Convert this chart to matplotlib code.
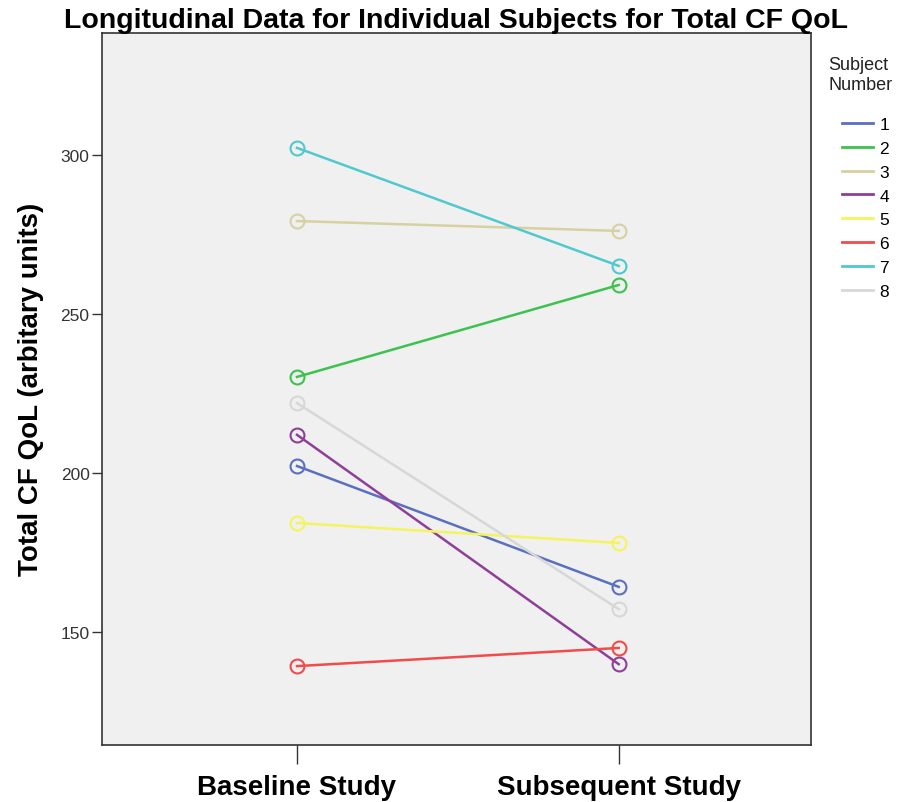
import matplotlib
matplotlib.use("Agg")
import matplotlib.pyplot as plt

plt.rcParams['font.family'] = ['Liberation Sans', 'DejaVu Sans']

studies = ["Baseline Study", "Subsequent Study"]
subjects = ["1", "2", "3", "4", "5", "6", "7", "8"]
baseline = [202.2, 230.2, 279.2, 212.0, 184.3, 139.3, 302.2, 222.0]
subsequent = [164.2, 259.1, 276.1, 139.9, 178.0, 145.0, 265.1, 157.2]
colors = ["#5a6fbf", "#3cc24e", "#d6d0a3", "#8f3f98", "#f4f45e",
          "#f24b4b", "#4fc9cf", "#d7d7d7"]
yticks = [150, 200, 250, 300]

fig = plt.figure(figsize=(9.11, 8.03), dpi=100)
ax = fig.add_axes([0.112, 0.071, 0.778, 0.887])
ax.set_facecolor("#f0f0f0")

xpos = range(len(studies))
for name, b, s, c in zip(subjects, baseline, subsequent, colors):
    ax.plot(xpos, [b, s], color=c, lw=1.8, marker="o", ms=10,
            mfc="none", mec=c, mew=1.5, label=name)

ax.set_xlim(-0.606, 1.597)
ax.set_ylim(114.5, 338.4)
ax.set_xticks(list(xpos))
ax.set_xticklabels(studies, fontsize=20, fontweight="bold")
ax.set_yticks(yticks)
ax.set_yticklabels([str(t) for t in yticks], fontsize=12.5, color="#333333")
ax.tick_params(axis="x", length=14, width=1, color="#333333", pad=7)
ax.tick_params(axis="y", length=7, width=1, color="#333333", pad=2)
for sp in ax.spines.values():
    sp.set_color("#333333")
    sp.set_linewidth(1.2)

ax.set_ylabel("Total CF QoL (arbitary units)", fontsize=20, fontweight="bold",
              labelpad=12)
ax.set_title("Longitudinal Data for Individual Subjects for Total CF QoL",
             fontsize=20.5, fontweight="bold", pad=1)

fig.text(0.909, 0.929, "Subject\nNumber", fontsize=13, va="top", ha="left",
         multialignment="left", color="#222222", linespacing=1.2)
handles = [plt.Line2D([], [], color=c, lw=2) for c in colors]
leg = fig.legend(handles, subjects, loc="upper left",
                 bbox_to_anchor=(0.915, 0.864), frameon=False,
                 fontsize=12.5, handlelength=1.8, handletextpad=0.35,
                 labelspacing=0.5, borderpad=0)

fig.savefig("out.png", dpi=100)
